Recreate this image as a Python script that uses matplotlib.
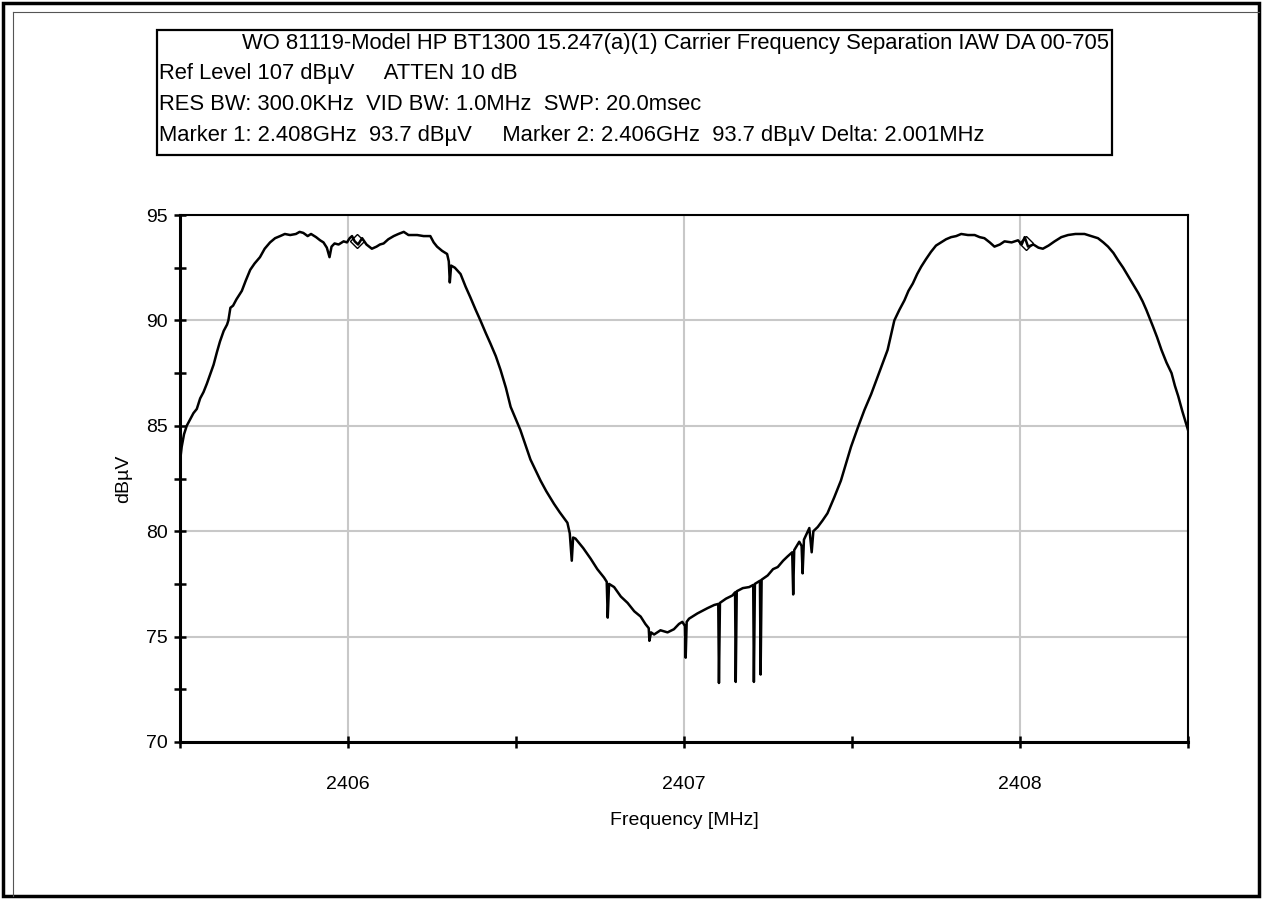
#!/usr/bin/env python3
import matplotlib
matplotlib.use("Agg")
import matplotlib.pyplot as plt
from matplotlib.patches import Rectangle
from matplotlib.ticker import MultipleLocator

# spectrum analyser trace (MHz, dBuV)
freq = [
    2405.500, 2405.505, 2405.512, 2405.520, 2405.530, 2405.540, 2405.550, 2405.560,
    2405.570, 2405.580, 2405.589, 2405.600, 2405.610, 2405.619, 2405.630, 2405.640,
    2405.644, 2405.650, 2405.658, 2405.668, 2405.684, 2405.696, 2405.709, 2405.722,
    2405.738, 2405.752, 2405.768, 2405.783, 2405.798, 2405.812, 2405.828, 2405.845,
    2405.856, 2405.867, 2405.880, 2405.890, 2405.905, 2405.917, 2405.927, 2405.937,
    2405.945, 2405.951, 2405.960, 2405.972, 2405.987, 2405.997, 2406.005, 2406.012,
    2406.020, 2406.030, 2406.042, 2406.055, 2406.071, 2406.085, 2406.095, 2406.106,
    2406.120, 2406.136, 2406.150, 2406.166, 2406.180, 2406.195, 2406.206, 2406.225,
    2406.245, 2406.255, 2406.265, 2406.280, 2406.295, 2406.300, 2406.303, 2406.307,
    2406.318, 2406.335, 2406.350, 2406.364, 2406.380, 2406.394, 2406.410, 2406.424,
    2406.440, 2406.454, 2406.470, 2406.484, 2406.500, 2406.513, 2406.528, 2406.543,
    2406.558, 2406.573, 2406.590, 2406.613, 2406.630, 2406.653, 2406.660, 2406.666,
    2406.670, 2406.677, 2406.700, 2406.722, 2406.742, 2406.762, 2406.770, 2406.773,
    2406.777, 2406.792, 2406.812, 2406.832, 2406.852, 2406.871, 2406.885, 2406.895,
    2406.897, 2406.902, 2406.911, 2406.930, 2406.951, 2406.970, 2406.985, 2406.995,
    2407.003, 2407.005, 2407.008, 2407.015, 2407.040, 2407.070, 2407.090, 2407.102,
    2407.104, 2407.107, 2407.125, 2407.144, 2407.152, 2407.154, 2407.157, 2407.175,
    2407.194, 2407.206, 2407.208, 2407.211, 2407.226, 2407.228, 2407.231, 2407.249,
    2407.265, 2407.279, 2407.295, 2407.308, 2407.322, 2407.325, 2407.328, 2407.343,
    2407.350, 2407.353, 2407.357, 2407.373, 2407.380, 2407.385, 2407.398, 2407.412,
    2407.427, 2407.447, 2407.467, 2407.482, 2407.497, 2407.517, 2407.537, 2407.557,
    2407.577, 2407.592, 2407.606, 2407.616, 2407.626, 2407.641, 2407.656, 2407.668,
    2407.681, 2407.694, 2407.706, 2407.720, 2407.735, 2407.750, 2407.765, 2407.780,
    2407.795, 2407.810, 2407.825, 2407.845, 2407.865, 2407.880, 2407.894, 2407.910,
    2407.924, 2407.940, 2407.954, 2407.975, 2407.994, 2408.005, 2408.014, 2408.024,
    2408.040, 2408.055, 2408.068, 2408.085, 2408.103, 2408.123, 2408.143, 2408.165,
    2408.192, 2408.212, 2408.232, 2408.248, 2408.262, 2408.278, 2408.292, 2408.307,
    2408.322, 2408.337, 2408.352, 2408.365, 2408.376, 2408.386, 2408.396, 2408.408,
    2408.421, 2408.436, 2408.451, 2408.461, 2408.471, 2408.483, 2408.496, 2408.500,
]
level = [
    83.3, 84.0, 84.6, 85.0, 85.3, 85.6, 85.8, 86.3,
    86.6, 87.0, 87.4, 87.9, 88.5, 89.0, 89.5, 89.8,
    90.0, 90.6, 90.7, 91.0, 91.4, 91.9, 92.4, 92.7,
    93.0, 93.4, 93.7, 93.9, 94.0, 94.1, 94.05, 94.1,
    94.2, 94.15, 94.0, 94.1, 93.95, 93.8, 93.7, 93.45,
    93.0, 93.5, 93.65, 93.6, 93.75, 93.7, 93.9, 94.0,
    93.75, 93.6, 93.9, 93.6, 93.4, 93.5, 93.6, 93.65,
    93.85, 94.0, 94.1, 94.2, 94.05, 94.05, 94.05, 94.0,
    94.0, 93.7, 93.5, 93.3, 93.15, 92.8, 91.8, 92.6,
    92.5, 92.2, 91.6, 91.1, 90.5, 90.0, 89.4, 88.9,
    88.3, 87.65, 86.8, 85.9, 85.3, 84.8, 84.1, 83.4,
    82.9, 82.4, 81.9, 81.3, 80.9, 80.4, 79.9, 78.6,
    79.7, 79.65, 79.2, 78.7, 78.2, 77.8, 77.6, 75.9,
    77.5, 77.35, 76.9, 76.6, 76.2, 75.95, 75.6, 75.4,
    74.8, 75.2, 75.1, 75.3, 75.2, 75.35, 75.6, 75.7,
    75.5, 74.0, 75.7, 75.85, 76.1, 76.35, 76.5, 76.55,
    72.8, 76.6, 76.8, 76.95, 77.1, 72.85, 77.15, 77.3,
    77.35, 77.45, 72.85, 77.5, 77.65, 73.2, 77.7, 77.9,
    78.2, 78.3, 78.6, 78.8, 79.0, 77.0, 79.1, 79.5,
    79.3, 78.0, 79.6, 80.15, 79.0, 80.0, 80.2, 80.5,
    80.85, 81.6, 82.4, 83.2, 84.0, 84.9, 85.75, 86.5,
    87.35, 88.0, 88.6, 89.3, 90.0, 90.5, 90.95, 91.4,
    91.75, 92.2, 92.55, 92.9, 93.25, 93.55, 93.7, 93.85,
    93.95, 94.0, 94.1, 94.05, 94.05, 93.95, 93.9, 93.7,
    93.5, 93.6, 93.75, 93.7, 93.8, 93.6, 93.95, 93.5,
    93.6, 93.45, 93.4, 93.55, 93.75, 93.95, 94.05, 94.1,
    94.1, 94.0, 93.9, 93.7, 93.5, 93.2, 92.85, 92.5,
    92.1, 91.7, 91.3, 90.9, 90.5, 90.1, 89.7, 89.2,
    88.6, 88.0, 87.5, 86.9, 86.4, 85.7, 85.0, 84.8,
]

marker_freq = [2406.028, 2408.017]
marker_level = [93.75, 93.65]

header_title = "WO 81119-Model HP BT1300 15.247(a)(1) Carrier Frequency Separation IAW DA 00-705"
header_lines = [
    "Ref Level 107 dB\u00b5V     ATTEN 10 dB",
    "RES BW: 300.0KHz  VID BW: 1.0MHz  SWP: 20.0msec",
    "Marker 1: 2.408GHz  93.7 dB\u00b5V     Marker 2: 2.406GHz  93.7 dB\u00b5V Delta: 2.001MHz",
]

W, H = 1267, 899


def fx(px):
    return px / W


def fy(py):
    return 1 - py / H


def main():
    plt.rcParams["font.family"] = ["Liberation Sans", "DejaVu Sans"]

    fig = plt.figure(figsize=(W / 100, H / 100), dpi=100)
    fig.patch.set_facecolor("white")

    # outer frame of the screenshot
    fig.add_artist(Rectangle((fx(3), fy(896)), fx(1259) - fx(3), fy(3) - fy(896),
                             transform=fig.transFigure, fill=False,
                             edgecolor="black", linewidth=2.5))
    fig.add_artist(plt.Line2D([fx(13), fx(13)], [fy(896), fy(12)],
                              transform=fig.transFigure, color="#555555", linewidth=0.8))
    fig.add_artist(plt.Line2D([fx(13), fx(1259)], [fy(12), fy(12)],
                              transform=fig.transFigure, color="#555555", linewidth=0.8))

    # header box
    fig.add_artist(Rectangle((fx(157), fy(155)), fx(1112) - fx(157), fy(30) - fy(155),
                             transform=fig.transFigure, fill=False,
                             edgecolor="black", linewidth=1.6))
    fig.text(fx(1109), fy(44), header_title, ha="right", va="center", fontsize=15.8)
    for i, line in enumerate(header_lines):
        fig.text(fx(159), fy(74 + i * 31), line, ha="left", va="center", fontsize=15.8)

    ax = fig.add_axes([fx(180), fy(742), fx(1188) - fx(180), fy(215) - fy(742)])
    ax.plot(freq, level, color="black", linewidth=1.8, zorder=3)
    ax.plot(marker_freq, marker_level, linestyle="none", marker="D", markersize=7,
            markerfacecolor="none", markeredgecolor="black", markeredgewidth=1.0, zorder=4)

    ax.set_xlim(2405.5, 2408.5)
    ax.set_ylim(70, 95)
    ax.xaxis.set_major_locator(MultipleLocator(1))
    ax.xaxis.set_minor_locator(MultipleLocator(0.5))
    ax.yaxis.set_major_locator(MultipleLocator(5))
    ax.yaxis.set_minor_locator(MultipleLocator(2.5))
    ax.grid(True, which="major", color="#c8c8c8", linewidth=1.5)
    ax.set_axisbelow(True)
    for side in ["left", "bottom"]:
        ax.spines[side].set_linewidth(2.2)
    for side in ["top", "right"]:
        ax.spines[side].set_linewidth(1.5)
    ax.tick_params(which="both", direction="inout", length=9, width=1.8, labelsize=14)
    ax.tick_params(axis="x", pad=20)
    ax.tick_params(axis="y", pad=4)
    ax.set_xlabel("Frequency [MHz]", fontsize=14, labelpad=14)
    ax.set_ylabel("dB\u00b5V", fontsize=14, labelpad=10)

    fig.savefig("out.png", dpi=100, facecolor="white")
    plt.close(fig)


if __name__ == "__main__":
    main()
